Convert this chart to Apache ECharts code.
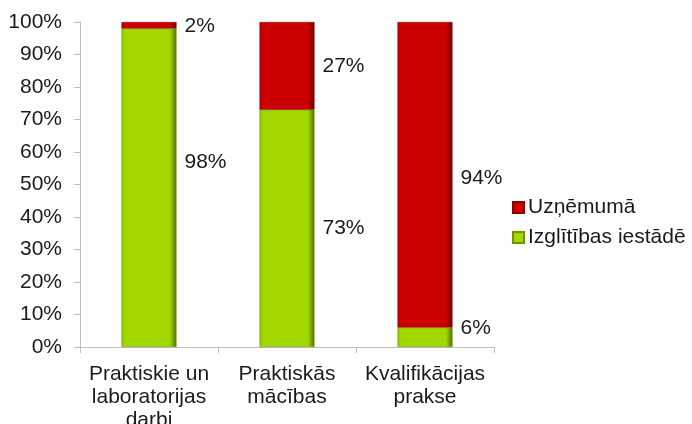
<!DOCTYPE html>
<html><head><meta charset="utf-8">
<script src="https://cdn.jsdelivr.net/npm/echarts@6/dist/echarts.min.js"></script>
<style>html,body{margin:0;padding:0;background:#fff}#c{width:692px;height:424px}</style>
</head><body><div id="c"></div>
<script>
const categories = ['Praktiskie un\nlaboratorijas\ndarbi', 'Praktiskās\nmācības', 'Kvalifikācijas\nprakse'];
const izglitibas = [98, 73, 6];
const uznemuma = [2, 27, 94];
const yTicks = [0, 10, 20, 30, 40, 50, 60, 70, 80, 90, 100];
const greenLabelOffsets = [[0, -26], [0, 0], [0, -9]];
const redLabelOffsets = [[0, 1], [0, 0], [0, 3]];

const font = 'Liberation Sans, Arial, sans-serif';
const fs = 21;
function grad(c1, c2, c3) {
  return new echarts.graphic.LinearGradient(0, 0, 1, 0, [
    {offset: 0, color: c1}, {offset: 0.06, color: c2}, {offset: 0.88, color: c2}, {offset: 1, color: c3}
  ]);
}
const greenFill = grad('#8fc000', '#a2d800', '#4f6e00');
const redFill = grad('#b00000', '#cc0000', '#6a0000');

const chart = echarts.init(document.getElementById('c'));
chart.setOption({
  animation: false,
  grid: {left: 80, right: 198, top: 22, bottom: 77, containLabel: false, outerBoundsMode: 'none'},
  legend: {
    orient: 'vertical', left: 512, top: 197, itemWidth: 11, itemHeight: 11, itemGap: 9,
    icon: 'rect', padding: 0,
    data: ['Uzņēmumā', 'Izglītības iestādē'],
    textStyle: {fontFamily: font, fontSize: fs, color: '#1a1a1a', padding: [0, 0, 0, -1]}
  },
  xAxis: {
    type: 'category', data: categories,
    axisLine: {lineStyle: {color: '#bfbfbf'}},
    axisTick: {show: true, length: 6, lineStyle: {color: '#bfbfbf'}},
    axisLabel: {fontFamily: font, fontSize: fs, color: '#1a1a1a', lineHeight: 23, margin: 16, interval: 0}
  },
  yAxis: {
    type: 'value', min: 0, max: 100, interval: 10,
    axisLine: {show: true, lineStyle: {color: '#bfbfbf'}},
    axisTick: {show: true, length: 6, lineStyle: {color: '#bfbfbf'}},
    splitLine: {show: false},
    axisLabel: {fontFamily: font, fontSize: fs, color: '#1a1a1a', margin: 18,
      formatter: v => yTicks.includes(v) ? v + '%' : ''}
  },
  series: [
    {
      name: 'Izglītības iestādē', type: 'bar', stack: 's', barWidth: 55,
      itemStyle: {color: greenFill, borderColor: '#6f9200', borderWidth: 0.5},
      data: izglitibas.map((v, i) => ({value: v, label: {offset: greenLabelOffsets[i]}})),
      label: {show: true, position: 'right', distance: 8, formatter: '{c}%',
        fontFamily: font, fontSize: fs, color: '#1a1a1a'}
    },
    {
      name: 'Uzņēmumā', type: 'bar', stack: 's', barWidth: 55,
      itemStyle: {color: redFill, borderColor: '#8a0000', borderWidth: 0.5},
      data: uznemuma.map((v, i) => ({value: v, label: {offset: redLabelOffsets[i]}})),
      label: {show: true, position: 'right', distance: 8, formatter: '{c}%',
        fontFamily: font, fontSize: fs, color: '#1a1a1a'}
    }
  ]
});
</script></body></html>
